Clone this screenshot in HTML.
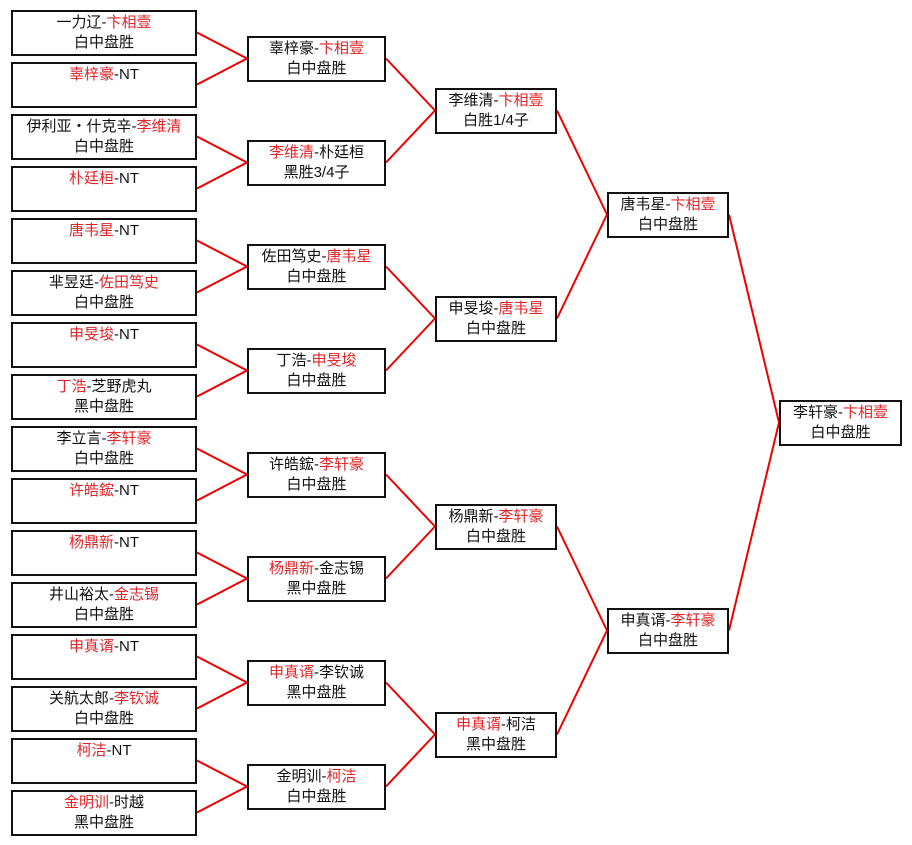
<!DOCTYPE html>
<html><head><meta charset="utf-8"><style>
body{margin:0;width:912px;height:845px;background:#fff;position:relative;overflow:hidden;font-family:"Liberation Sans","Noto Sans CJK SC",sans-serif;}
.b{position:absolute;box-sizing:border-box;border:2px solid #111;background:#fff;text-align:center;font-size:15px;line-height:20px;padding-top:1px;color:#111;white-space:nowrap;}
.r{color:#e0262a;}
svg{position:absolute;left:0;top:0;}
</style></head><body>
<svg width="912" height="845" id="s"></svg>
<div id="c"></div>
<script>
var R1=[["一力辽-<span class=r>卞相壹</span>","白中盘胜"],["<span class=r>辜梓豪</span>-NT",""],["伊利亚・什克辛-<span class=r>李维清</span>","白中盘胜"],["<span class=r>朴廷桓</span>-NT",""],["<span class=r>唐韦星</span>-NT",""],["芈昱廷-<span class=r>佐田笃史</span>","白中盘胜"],["<span class=r>申旻埈</span>-NT",""],["<span class=r>丁浩</span>-芝野虎丸","黑中盘胜"],["李立言-<span class=r>李轩豪</span>","白中盘胜"],["<span class=r>许皓鋐</span>-NT",""],["<span class=r>杨鼎新</span>-NT",""],["井山裕太-<span class=r>金志锡</span>","白中盘胜"],["<span class=r>申真谞</span>-NT",""],["关航太郎-<span class=r>李钦诚</span>","白中盘胜"],["<span class=r>柯洁</span>-NT",""],["<span class=r>金明训</span>-时越","黑中盘胜"]];
var R2=[["辜梓豪-<span class=r>卞相壹</span>","白中盘胜"],["<span class=r>李维清</span>-朴廷桓","黑胜3/4子"],["佐田笃史-<span class=r>唐韦星</span>","白中盘胜"],["丁浩-<span class=r>申旻埈</span>","白中盘胜"],["许皓鋐-<span class=r>李轩豪</span>","白中盘胜"],["<span class=r>杨鼎新</span>-金志锡","黑中盘胜"],["<span class=r>申真谞</span>-李钦诚","黑中盘胜"],["金明训-<span class=r>柯洁</span>","白中盘胜"]];
var R3=[["李维清-<span class=r>卞相壹</span>","白胜1/4子"],["申旻埈-<span class=r>唐韦星</span>","白中盘胜"],["杨鼎新-<span class=r>李轩豪</span>","白中盘胜"],["<span class=r>申真谞</span>-柯洁","黑中盘胜"]];
var R4=[["唐韦星-<span class=r>卞相壹</span>","白中盘胜"],["申真谞-<span class=r>李轩豪</span>","白中盘胜"]];
var R5=[["李轩豪-<span class=r>卞相壹</span>","白中盘胜"]];
var rounds=[[R1,11,186],[R2,247,139],[R3,435,122],[R4,607,122],[R5,779,123]];
var h="",lines="",centers=[];
for(var r=0;r<5;r++){var d=rounds[r],cs=[];
for(var i=0;i<d[0].length;i++){var cy;
if(r==0)cy=32.5+52*i;else cy=(centers[r-1][2*i]+centers[r-1][2*i+1])/2;
cs.push(cy);var t=cy-22.5;
h+='<div class=b style="left:'+d[1]+'px;top:'+t+'px;width:'+d[2]+'px;height:46px">'+d[0][i][0]+'<br>'+d[0][i][1]+'</div>';
if(r>0){var px=rounds[r-1][1]+rounds[r-1][2];
for(var k=0;k<2;k++)lines+='<line x1="'+px+'" y1="'+centers[r-1][2*i+k]+'" x2="'+d[1]+'" y2="'+cy+'" stroke="#e00" stroke-width="2"/>';}}
centers.push(cs);}
document.getElementById("c").innerHTML=h;document.getElementById("s").innerHTML=lines;
</script>
</body></html>
